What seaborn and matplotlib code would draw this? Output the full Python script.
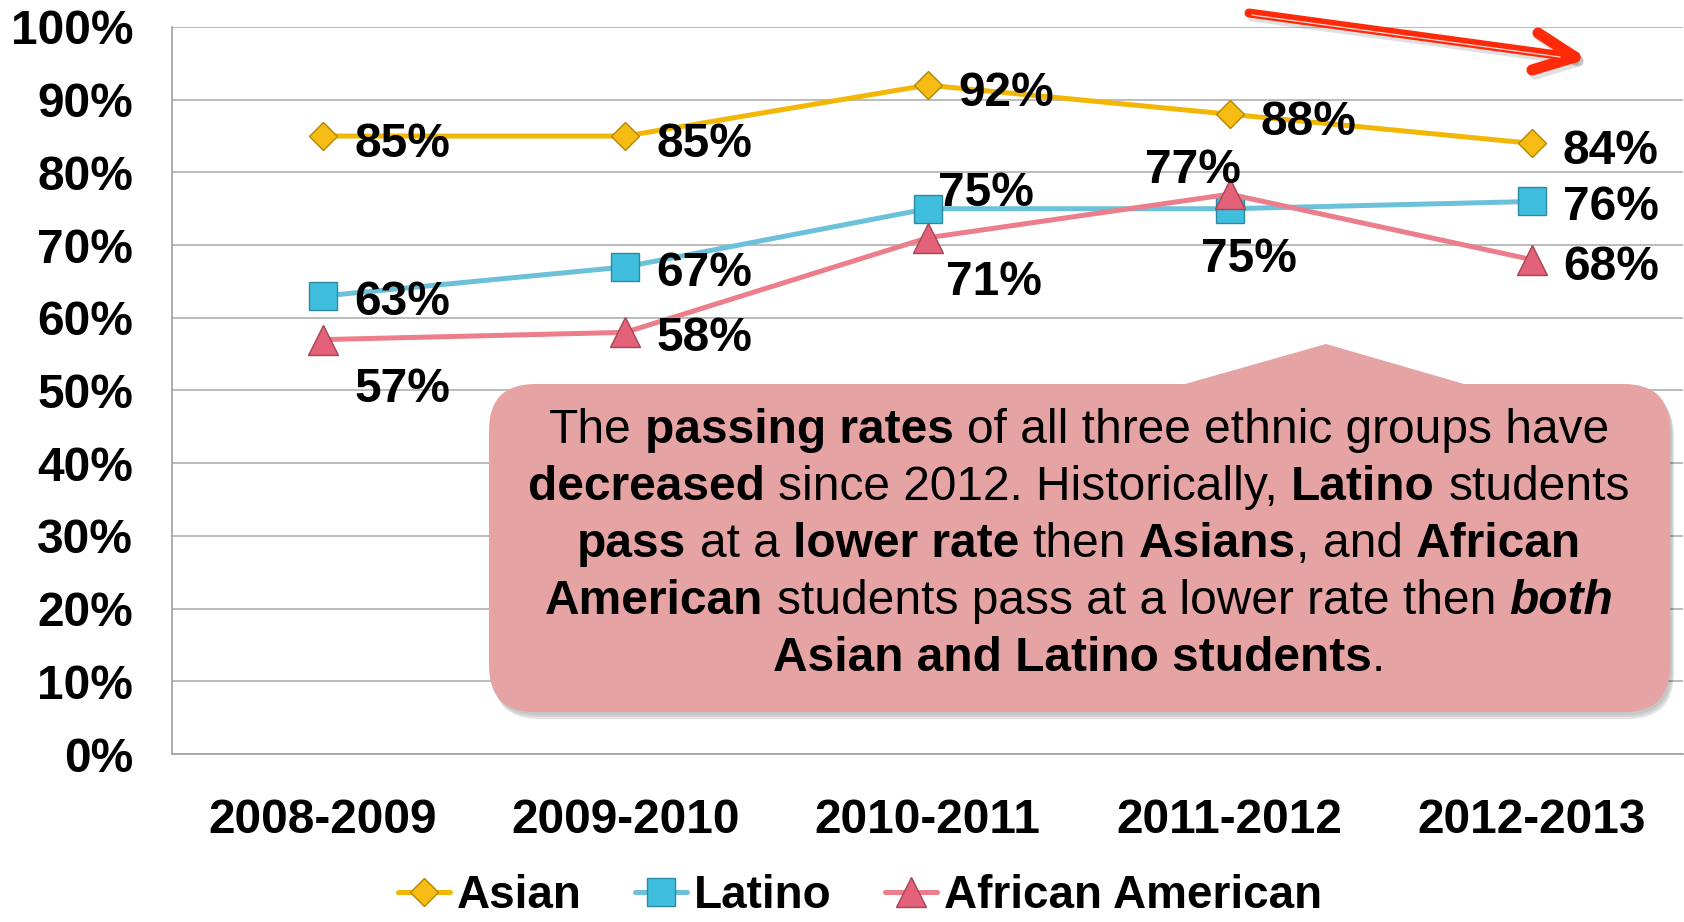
import matplotlib
matplotlib.use("Agg")
import matplotlib.pyplot as plt
import numpy as np
import pandas as pd
import seaborn as sns
from matplotlib.patches import FancyBboxPatch, Polygon
from matplotlib.lines import Line2D
from matplotlib.transforms import IdentityTransform

# ---- data ----
years = ["2008-2009", "2009-2010", "2010-2011", "2011-2012", "2012-2013"]
asian = [85, 85, 92, 88, 84]
latino = [63, 67, 75, 75, 76]
african_american = [57, 58, 71, 77, 68]
groups = ["Asian", "Latino", "African American"]
y_ticks = [0, 10, 20, 30, 40, 50, 60, 70, 80, 90, 100]
y_tick_labels = [f"{v}%" for v in y_ticks]

# callout text: (segment, style, space_before)
callout_lines = [
    [("The", "n", True), ("passing rates", "b", True), ("of all three ethnic groups have", "n", True)],
    [("decreased", "b", True), ("since 2012. Historically,", "n", True), ("Latino", "b", True),
     ("students", "n", True)],
    [("pass", "b", True), ("at a", "n", True), ("lower rate", "b", True), ("then", "n", True),
     ("Asians", "b", True), (",", "n", False), ("and", "n", True), ("African", "b", True)],
    [("American", "b", True), ("students pass at a lower rate then", "n", True), ("both", "bi", True)],
    [("Asian and Latino students", "b", True), (".", "n", False)],
]

# ---- figure setup ----
W, H, DPI = 1684, 922, 100
sns.set_theme(style="white")
plt.rcParams["font.family"] = ["Liberation Sans", "DejaVu Sans"]
plt.rcParams["text.color"] = "black"

fig = plt.figure(figsize=(W / DPI, H / DPI), dpi=DPI)
fig.patch.set_facecolor("white")
ax = fig.add_axes([172 / W, 1 - 754 / H, (1683 - 172) / W, (754 - 27) / H])

series = {"Asian": asian, "Latino": latino, "African American": african_american}
df = pd.concat(
    [pd.DataFrame({"Year": years, "Rate": vals, "Group": g}) for g, vals in series.items()],
    ignore_index=True,
)

styles = {
    "Asian": dict(marker="D", line="#F2B705", face="#F6BC14", edge="#B38600", ms=14.5),
    "Latino": dict(marker="s", line="#6CC1DA", face="#40BEDD", edge="#2A8AA3", ms=20),
    "African American": dict(marker="^", line="#EC7D8B", face="#E3627A", edge="#A84455", ms=22),
}

handles = []
for g in groups:
    st = styles[g]
    sns.lineplot(
        data=df[df["Group"] == g], x="Year", y="Rate", ax=ax, sort=False, legend=False,
        color=st["line"], linewidth=3.6, marker=st["marker"], markersize=st["ms"],
        markerfacecolor=st["face"], markeredgecolor=st["edge"], markeredgewidth=1.0,
        zorder=3,
    )
    handles.append(Line2D([], [], color=st["line"], linewidth=3.6, marker=st["marker"],
                          markersize=st["ms"], markerfacecolor=st["face"],
                          markeredgecolor=st["edge"], markeredgewidth=1.0))

# value labels: pixel offsets of the label's left edge / visual centre from the point
label_offsets = {
    "Asian": [(31, 4), (31, 4), (31, 4), (31, 4), (31, 4)],
    "Latino": [(31, 2), (31, 2), (11, -20), (-29, 46), (31, 2)],
    "African American": [(31, 45), (31, 2), (19, 40), (-85, -28), (31, 3)],
}
BIG = 34.5
for g in groups:
    for i, v in enumerate(series[g]):
        dx, dy = label_offsets[g][i]
        ax.annotate(f"{v}%", (i, v), xytext=(dx, -(dy + 17)), textcoords="offset pixels",
                    ha="left", va="baseline", fontsize=BIG, fontweight="bold",
                    color="black", zorder=4, annotation_clip=False)

ax.set_xlim(-0.5, 4.5)
ax.set_ylim(0, 100)
ax.set_yticks(y_ticks)
ax.set_yticklabels(y_tick_labels)
ax.set_xlabel("")
ax.set_ylabel("")
ax.grid(axis="y", color="#A8A8A8", linewidth=1.1)
ax.grid(axis="x", visible=False)
for s in ["top", "right"]:
    ax.spines[s].set_visible(False)
for s in ["left", "bottom"]:
    ax.spines[s].set_color("#A0A0A0")
    ax.spines[s].set_linewidth(1.2)
ax.tick_params(axis="y", length=0, pad=28, labelsize=BIG)
ax.tick_params(axis="x", length=0, pad=32, labelsize=BIG)
for lab in ax.get_xticklabels() + ax.get_yticklabels():
    lab.set_fontweight("bold")
    lab.set_color("black")

ax.legend(handles, groups, loc="center", bbox_to_anchor=(860 / W, 1 - 896 / H),
          bbox_transform=fig.transFigure, ncol=3, frameon=False, labelcolor="black",
          prop=dict(weight="bold", size=33), handlelength=1.15, handletextpad=0.15,
          columnspacing=1.15, borderaxespad=0, borderpad=0)

# ---- callout box (figure pixel coordinates, y measured from the top) ----
ident = IdentityTransform()
def py(y):
    return H - y

box_x0, box_x1, box_y0, box_y1 = 489, 1670, 384, 712
tip = (1326, 344)
base_l, base_r = 1178, 1471
box_color = "#E5A3A3"

def callout_shapes(dx, dy, color, alpha, z):
    b = FancyBboxPatch((box_x0 + dx, py(box_y1) + dy), box_x1 - box_x0, box_y1 - box_y0,
                       boxstyle="round,pad=0,rounding_size=46", transform=ident,
                       facecolor=color, edgecolor="none", alpha=alpha, zorder=z)
    t = Polygon([(base_l + dx, py(box_y0 + 2) + dy), (tip[0] + dx, py(tip[1]) + dy),
                 (base_r + dx, py(box_y0 + 2) + dy)], closed=True, transform=ident,
                facecolor=color, edgecolor="none", alpha=alpha, zorder=z)
    fig.add_artist(b)
    fig.add_artist(t)

for k, a in enumerate([0.06, 0.08, 0.1]):
    callout_shapes(2 + k, -3 - 2 * k, "black", a, 5)
callout_shapes(0, 0, box_color, 1.0, 6)

# callout text with mixed weights
renderer = fig.canvas.get_renderer()
CALLOUT_SIZE = 34.5
font_kw = {
    "n": dict(fontweight="normal", fontstyle="normal"),
    "b": dict(fontweight="bold", fontstyle="normal"),
    "bi": dict(fontweight="bold", fontstyle="italic"),
}

def text_width(s, kind):
    t = fig.text(0, 0, s, fontsize=CALLOUT_SIZE, transform=ident, **font_kw[kind])
    w = t.get_window_extent(renderer).width
    t.remove()
    return w

space_w = text_width("a a", "n") - text_width("aa", "n")
center_x = 1079
baselines = [443, 500, 557, 614, 671]
for line, base in zip(callout_lines, baselines):
    widths = [text_width(seg, kind) for seg, kind, _ in line]
    gaps = [space_w if (j > 0 and sp) else 0 for j, (_, _, sp) in enumerate(line)]
    total = sum(widths) + sum(gaps)
    x = center_x - total / 2
    for (seg, kind, _), w, gp in zip(line, widths, gaps):
        x += gp
        fig.text(x, py(base), seg, fontsize=CALLOUT_SIZE, color="black", ha="left",
                 va="baseline", transform=ident, zorder=7, **font_kw[kind])
        x += w

# ---- red trend arrow ----
arrow_red = "#FF2A0A"
shaft = [(1249, 13), (1572, 57)]
arm_top = [(1538, 33), (1575, 57)]
arm_bot = [(1532, 70), (1575, 57)]
for pts, lw in [(shaft, 6.5), (arm_top, 8), (arm_bot, 8)]:
    xs = [p[0] + 3 for p in pts]
    ys = [py(p[1] + 4) for p in pts]
    fig.add_artist(Line2D(xs, ys, transform=ident, color="black", alpha=0.12,
                          linewidth=lw, solid_capstyle="round", zorder=8))
for pts, lw in [(shaft, 6.5), (arm_top, 8), (arm_bot, 8)]:
    fig.add_artist(Line2D([p[0] for p in pts], [py(p[1]) for p in pts], transform=ident,
                          color=arrow_red, linewidth=lw, solid_capstyle="round", zorder=9))
fig.add_artist(Line2D([1252, 1560], [py(15), py(57)], transform=ident, color="#E8D8D8",
                      linewidth=0.9, zorder=10))

fig.savefig("out.png", dpi=DPI, facecolor="white")
